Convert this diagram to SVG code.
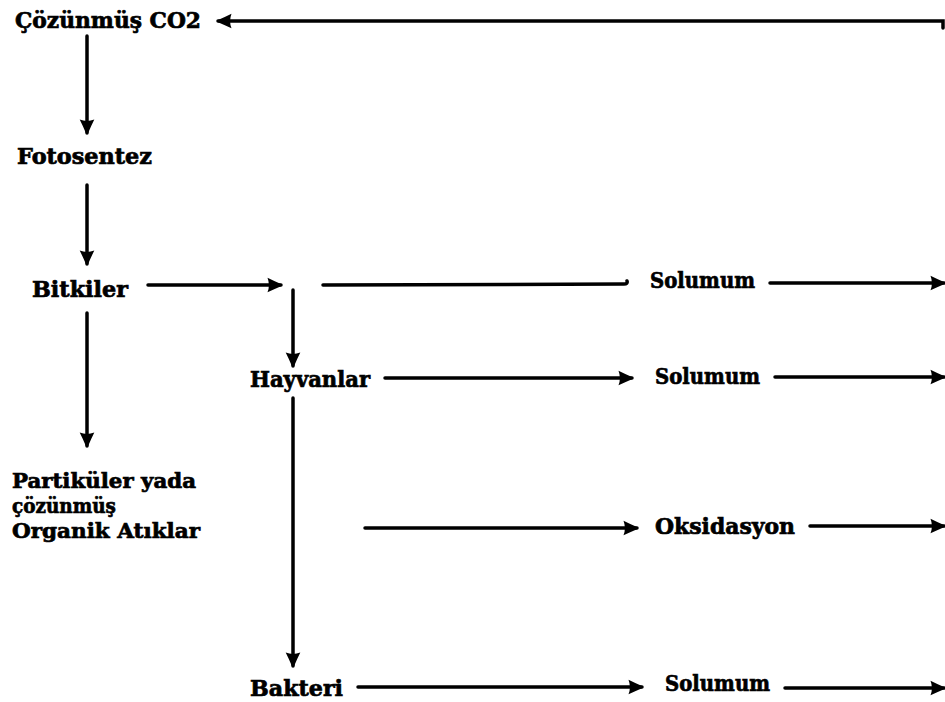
<svg xmlns="http://www.w3.org/2000/svg" width="945" height="702" viewBox="0 0 945 702">
<defs>
<style>
.t{font-family:"DejaVu Serif","Liberation Serif",serif;font-weight:bold;font-size:22px;fill:#000;stroke:#000;stroke-width:0.7}
.s{font-size:20.5px}
.c{stroke:#000;stroke-width:3.5;fill:none;stroke-linecap:round}
</style>
<marker id="ah" markerUnits="userSpaceOnUse" markerWidth="18" markerHeight="18" viewBox="0 0 16 16" refX="14" refY="8" orient="auto">
<path d="M2,1.5 Q8,4.5 14,7 Q15,8 14,9 Q8,11.5 2,14.5 Q4.5,8 2,1.5 Z" fill="#000"/>
</marker>
</defs>
<rect width="945" height="702" fill="#fff"/>
<g id="connectors">
<path class="c" d="M943,28 L943,21 L218,21" marker-end="url(#ah)"/>
<path class="c" d="M87,36 L87,133" marker-end="url(#ah)"/>
<path class="c" d="M87,185 L87,264" marker-end="url(#ah)"/>
<path class="c" d="M148,285 L281,285" marker-end="url(#ah)"/>
<path class="c" d="M323,285 L624,284 Q628,284 627,281"/>
<path class="c" d="M770,283 L944,283" marker-end="url(#ah)"/>
<path class="c" d="M293,290 L293,366" marker-end="url(#ah)"/>
<path class="c" d="M385,378 L632,378" marker-end="url(#ah)"/>
<path class="c" d="M775,377 L944,377" marker-end="url(#ah)"/>
<path class="c" d="M87,313 L87,446" marker-end="url(#ah)"/>
<path class="c" d="M293,398 L293,666" marker-end="url(#ah)"/>
<path class="c" d="M365,528 L637,528" marker-end="url(#ah)"/>
<path class="c" d="M810,526 L944,526" marker-end="url(#ah)"/>
<path class="c" d="M358,687 L642,687" marker-end="url(#ah)"/>
<path class="c" d="M785,688 L944,688" marker-end="url(#ah)"/>
</g>
<g id="n-co2"><text class="t" x="15" y="28" textLength="186" lengthAdjust="spacingAndGlyphs">Çözünmüş CO2</text></g>
<g id="n-fotosentez"><text class="t" x="17" y="164" textLength="135" lengthAdjust="spacingAndGlyphs">Fotosentez</text></g>
<g id="n-bitkiler"><text class="t" x="32" y="297" textLength="96" lengthAdjust="spacingAndGlyphs">Bitkiler</text></g>
<g id="n-solumum1"><text class="t" x="650" y="288" textLength="105" lengthAdjust="spacingAndGlyphs">Solumum</text></g>
<g id="n-hayvanlar"><text class="t" x="250" y="387" textLength="120" lengthAdjust="spacingAndGlyphs">Hayvanlar</text></g>
<g id="n-solumum2"><text class="t" x="655" y="384" textLength="105" lengthAdjust="spacingAndGlyphs">Solumum</text></g>
<g id="n-atiklar">
<text class="t s" x="12" y="488" textLength="184" lengthAdjust="spacingAndGlyphs">Partiküler yada</text>
<text class="t s" x="12" y="513" textLength="104" lengthAdjust="spacingAndGlyphs">çözünmüş</text>
<text class="t s" x="12" y="538" textLength="188" lengthAdjust="spacingAndGlyphs">Organik Atıklar</text>
</g>
<g id="n-oksidasyon"><text class="t" x="655" y="534" textLength="140" lengthAdjust="spacingAndGlyphs">Oksidasyon</text></g>
<g id="n-bakteri"><text class="t" x="250" y="696" textLength="93" lengthAdjust="spacingAndGlyphs">Bakteri</text></g>
<g id="n-solumum3"><text class="t" x="665" y="691" textLength="105" lengthAdjust="spacingAndGlyphs">Solumum</text></g>
</svg>
